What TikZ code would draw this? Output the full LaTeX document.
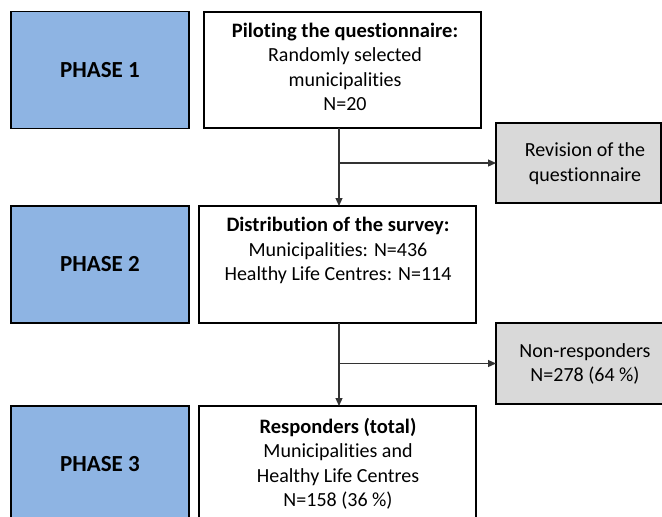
\documentclass[tikz,border=0pt]{standalone}
\usepackage{fontspec}
\setmainfont{Carlito}[Ligatures={NoCommon,TeX}]
\usetikzlibrary{arrows.meta}
\definecolor{phaseblue}{HTML}{8EB4E3}
\definecolor{sidegray}{HTML}{D9D9D9}
\begin{document}
\begin{tikzpicture}[x=1pt,y=-1pt,
  box/.style={draw=black,line width=1.4pt,rectangle,inner sep=0pt,outer sep=0pt},
  phasebox/.style={box,fill=phaseblue,minimum width=178pt,minimum height=117pt,font=\bfseries\fontsize{23}{27}\selectfont},
  mainbox/.style={box,fill=white,minimum width=277pt,minimum height=117pt},
  sidebox/.style={box,fill=sidegray},
  txt/.style={align=center,font=\fontsize{20}{24.5}\selectfont,inner sep=0pt},
  conn/.style={draw=black!80,line width=1.2pt},
  arr/.style={conn,-{Triangle[length=8pt,width=7pt]}}
]
\useasboundingbox (0,0) rectangle (662,517);
\clip (0,0) rectangle (662,517);

% phase boxes
\node[phasebox] (p1) at (100,70) {PHASE 1};
\node[phasebox] (p2) at (100,264.5) {PHASE 2};
\node[phasebox] (p3) at (100,464.5) {PHASE 3};

% main boxes
\node[mainbox,minimum height=116pt] (pilot) at (342.5,70) {};
\node[txt] (pilottxt) at (345,67) {{\fontsize{20.5}{24.5}\selectfont\bfseries Piloting the questionnaire:}\\Randomly selected\\municipalities\\N=20};

\node[mainbox] (dist) at (337.5,264.5) {};
\node[txt] (disttxt) at (338,250.5) {{\fontsize{20.5}{24.5}\selectfont\bfseries Distribution of the survey:}\\Municipalities: N=436\\Healthy Life Centres: N=114};

\node[mainbox] (resp) at (337.5,464.5) {};
\node[txt] (resptxt) at (338,464) {{\fontsize{20.5}{24.5}\selectfont\bfseries Responders (total)}\\Municipalities and\\Healthy Life Centres\\N=158 (36 \%)};

% side boxes
\node[sidebox,minimum width=165pt,minimum height=80pt] (rev) at (578.5,163) {};
\node[txt] (revtxt) at (585,163.5) {Revision of the\\questionnaire};
\node[sidebox,minimum width=172pt,minimum height=81pt] (non) at (582,363.5) {};
\node[txt] (nontxt) at (585,364) {Non-responders\\N=278 (64 \%)};

% connectors
\coordinate (j1) at (339,163);
\coordinate (j2) at (339,363.5);
\draw[arr] (pilot.south -| j1) -- (dist.north -| j1);
\draw[arr] (j1) -- (rev.west |- j1);
\draw[arr] (dist.south -| j2) -- (resp.north -| j2);
\draw[arr] (j2) -- (non.west |- j2);
\end{tikzpicture}
\end{document}
